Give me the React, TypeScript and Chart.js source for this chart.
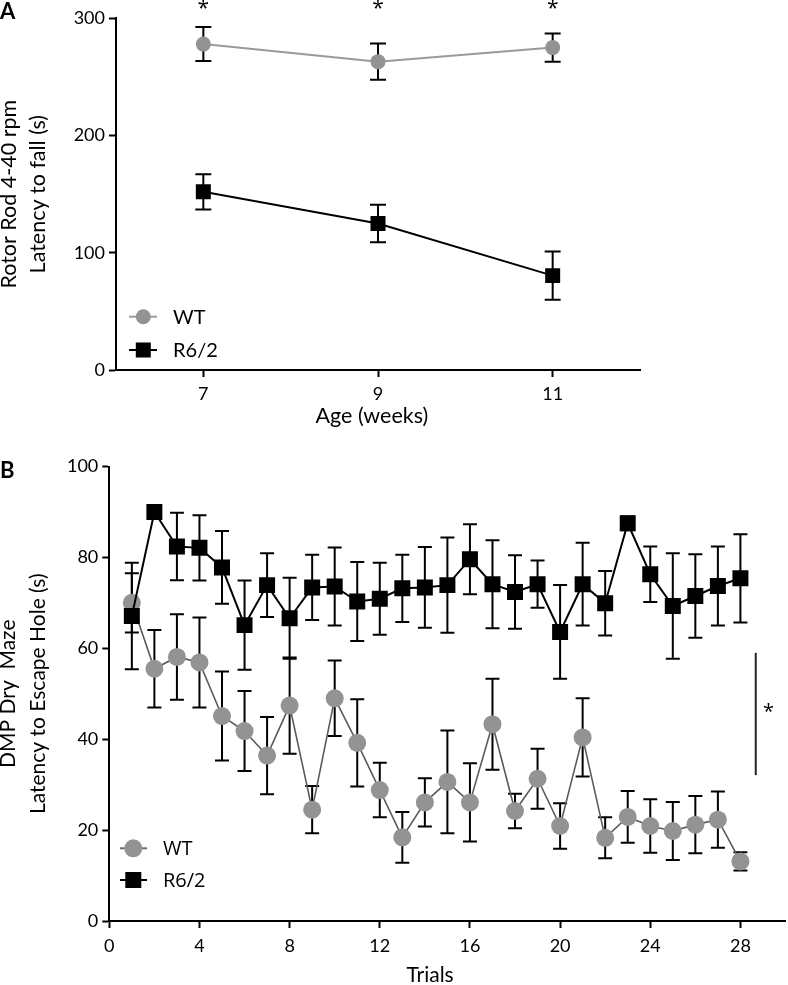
import React, { useEffect, useRef } from 'react';
import { Chart, registerables } from 'chart.js';

Chart.register(...registerables);

// ---------- Panel A data ----------
const weeksA = [7, 9, 11];
const wtMeanA = [278, 263, 275];
const wtSemA = [14.5, 15.5, 12];
const r62MeanA = [152, 125, 80.5];
const r62SemA = [15, 16, 20.5];
const xTicksA = [7, 9, 11];
const yTicksA = [0, 100, 200, 300];
const sigWeeksA = [7, 9, 11];

// ---------- Panel B data ----------
const trialsB = [1, 2, 3, 4, 5, 6, 7, 8, 9, 10, 11, 12, 13, 14, 15, 16, 17, 18, 19, 20, 21, 22, 23, 24, 25, 26, 27, 28];
const wtMeanB = [70.0, 55.5, 58.1, 56.9, 45.1, 41.8, 36.4, 47.4, 24.5, 49.0, 39.2, 28.8, 18.4, 26.1, 30.6, 26.1, 43.3, 24.2, 31.3, 20.9, 40.4, 18.3, 22.9, 20.9, 19.8, 21.2, 22.3, 13.1];
const wtSemB = [6.5, 8.5, 9.4, 9.9, 9.8, 8.8, 8.5, 10.6, 5.2, 8.3, 9.6, 6.0, 5.6, 5.3, 11.3, 8.6, 10.0, 3.8, 6.6, 5.0, 8.6, 4.5, 5.7, 5.9, 6.4, 6.3, 6.2, 2.0];
const r62MeanB = [67.1, 90.0, 82.4, 82.1, 77.8, 65.1, 73.9, 66.6, 73.4, 73.6, 70.3, 70.9, 73.2, 73.4, 73.9, 79.6, 74.1, 72.4, 74.1, 63.6, 74.1, 69.9, 87.5, 76.3, 69.3, 71.5, 73.7, 75.4];
const r62SemB = [11.7, 1.5, 7.4, 7.2, 8.0, 9.8, 7.0, 8.9, 7.2, 8.6, 8.7, 7.9, 7.4, 8.9, 10.5, 7.7, 9.7, 8.1, 5.2, 10.3, 9.1, 7.1, 1.5, 6.1, 11.6, 9.2, 8.7, 9.7];
const xTicksB = [0, 4, 8, 12, 16, 20, 24, 28];
const yTicksB = [0, 20, 40, 60, 80, 100];
const sigBarB = { x: 28.68, from: 59.0, to: 32.1, starX: 29.25, starY: 46 };

const WT_FILL = '#939393';
const BLACK = '#000000';
const FONT = 'Lato';

const toPts = (xs: number[], ys: number[]) => xs.map((x, i) => ({ x, y: ys[i] }));

const errorBarPlugin = {
  id: 'errorBars',
  beforeDatasetsDraw(chart: any, _a: any, opts: any) {
    const { ctx } = chart;
    const xs = chart.scales.x;
    const ys = chart.scales.y;
    ctx.save();
    ctx.strokeStyle = BLACK;
    ctx.lineWidth = opts.width;
    chart.data.datasets.forEach((ds: any) => {
      ds.data.forEach((p: any, i: number) => {
        const e = ds.errors[i];
        const px = xs.getPixelForValue(p.x);
        const top = ys.getPixelForValue(p.y + e);
        const bot = ys.getPixelForValue(p.y - e);
        ctx.beginPath();
        ctx.moveTo(px, top);
        ctx.lineTo(px, bot);
        ctx.moveTo(px - opts.cap, top);
        ctx.lineTo(px + opts.cap, top);
        ctx.moveTo(px - opts.cap, bot);
        ctx.lineTo(px + opts.cap, bot);
        ctx.stroke();
      });
    });
    ctx.restore();
  },
};

const extrasPlugin = {
  id: 'extras',
  afterDraw(chart: any, _a: any, opts: any) {
    const { ctx } = chart;
    const xs = chart.scales.x;
    const ys = chart.scales.y;
    ctx.save();
    // panel letter
    ctx.fillStyle = BLACK;
    ctx.font = `bold 22px ${FONT}`;
    ctx.textAlign = 'left';
    ctx.textBaseline = 'middle';
    ctx.fillText(opts.letter.text, opts.letter.x, opts.letter.y);
    // x axis title
    const xt = opts.xTitle;
    ctx.font = `${xt.size}px ${FONT}`;
    ctx.textAlign = 'center';
    ctx.fillText(xt.text, xs.getPixelForValue(xt.at), xt.y);
    // legend
    const lg = opts.legend;
    lg.items.forEach((it: any) => {
      ctx.strokeStyle = it.line;
      ctx.lineWidth = it.lineWidth;
      ctx.beginPath();
      ctx.moveTo(lg.x1, it.y);
      ctx.lineTo(lg.x2, it.y);
      ctx.stroke();
      ctx.fillStyle = it.fill;
      if (it.shape === 'circle') {
        ctx.beginPath();
        ctx.arc(lg.cx, it.y, it.size, 0, Math.PI * 2);
        ctx.fill();
      } else {
        ctx.fillRect(lg.cx - it.size, it.y - it.size, it.size * 2, it.size * 2);
      }
      ctx.fillStyle = BLACK;
      ctx.font = `${lg.fontSize}px ${lg.font}`;
      ctx.textAlign = 'left';
      ctx.textBaseline = 'middle';
      ctx.fillText(it.label, lg.tx, it.y + 1);
    });
    // significance marks
    ctx.fillStyle = BLACK;
    ctx.font = `${opts.starSize}px ${opts.starFont}`;
    ctx.textAlign = 'center';
    ctx.textBaseline = 'middle';
    opts.stars.forEach((s: any) => {
      ctx.fillText('*', xs.getPixelForValue(s.x), ys.getPixelForValue(s.y));
    });
    if (opts.bar) {
      ctx.strokeStyle = '#222';
      ctx.lineWidth = 2;
      const bx = xs.getPixelForValue(opts.bar.x);
      ctx.beginPath();
      ctx.moveTo(bx, ys.getPixelForValue(opts.bar.from));
      ctx.lineTo(bx, ys.getPixelForValue(opts.bar.to));
      ctx.stroke();
    }
    ctx.restore();
  },
};

function axisCommon(ticksArr: number[], size: number, pad: number) {
  return {
    afterBuildTicks: (s: any) => {
      s.ticks = ticksArr.map((v) => ({ value: v }));
    },
    grid: { display: true, drawOnChartArea: false, drawTicks: true, tickLength: 7, tickWidth: 2, tickColor: BLACK },
    border: { display: true, color: BLACK, width: 2 },
    ticks: { color: BLACK, font: { family: FONT, size }, padding: pad, maxRotation: 0, autoSkip: false },
  };
}

function configA(): any {
  return {
    type: 'line',
    data: {
      datasets: [
        {
          label: 'R6/2',
          data: toPts(weeksA, r62MeanA),
          errors: r62SemA,
          borderColor: BLACK,
          borderWidth: 2,
          pointStyle: 'rect',
          pointRadius: 10.6,
          pointBackgroundColor: BLACK,
          pointBorderWidth: 0,
          tension: 0,
          order: 0,
        },
        {
          label: 'WT',
          data: toPts(weeksA, wtMeanA),
          errors: wtSemA,
          borderColor: '#9a9a9a',
          borderWidth: 2,
          pointStyle: 'circle',
          pointRadius: 7.5,
          pointBackgroundColor: WT_FILL,
          pointBorderWidth: 0,
          tension: 0,
          order: 1,
        },
      ],
    },
    options: {
      responsive: false,
      animation: false,
      events: [],
      layout: { autoPadding: false, padding: { left: 0, right: 148, top: 18.3, bottom: 0 } },
      plugins: {
        legend: { display: false },
        tooltip: { enabled: false },
        errorBars: { cap: 8, width: 2 },
        extras: {
          letter: { text: 'A', x: 0, y: 12 },
          xTitle: { text: 'Age (weeks)', at: 8.93, y: 416, size: 21.5 },
          legend: {
            x1: 129, x2: 157, cx: 143.3, tx: 173, font: FONT, fontSize: 20,
            items: [
              { label: 'WT', shape: 'circle', fill: WT_FILL, line: '#9a9a9a', lineWidth: 2, size: 7.5, y: 316.7 },
              { label: 'R6/2', shape: 'rect', fill: BLACK, line: BLACK, lineWidth: 2, size: 7.5, y: 350 },
            ],
          },
          starSize: 21,
          starFont: 'Open Sans',
          stars: sigWeeksA.map((w) => ({ x: w, y: 307.5 })),
          bar: null,
        },
      },
      scales: {
        x: {
          type: 'linear',
          min: 6,
          max: 12,
          ...axisCommon(xTicksA, 18, 6),
          afterFit: (s: any) => {
            s.height = 70;
            s.paddingLeft = 0;
            s.paddingRight = 0;
          },
          title: { display: false },
        },
        y: {
          type: 'linear',
          min: 0,
          max: 300,
          ...axisCommon(yTicksA, 18, 4),
          afterFit: (s: any) => {
            s.width = 116;
            s.paddingTop = 0;
            s.paddingBottom = 0;
          },
          title: {
            display: true,
            text: ['Rotor Rod 4-40 rpm', 'Latency to fall (s)'],
            color: BLACK,
            font: { family: FONT, size: 21.5, lineHeight: '29px' },
            padding: { top: -5.5, bottom: 0 },
          },
        },
      },
    },
    plugins: [errorBarPlugin, extrasPlugin],
  };
}

function configB(): any {
  return {
    type: 'line',
    data: {
      datasets: [
        {
          label: 'R6/2',
          data: toPts(trialsB, r62MeanB),
          errors: r62SemB,
          borderColor: BLACK,
          borderWidth: 2,
          pointStyle: 'rect',
          pointRadius: 11.3,
          pointBackgroundColor: BLACK,
          pointBorderWidth: 0,
          tension: 0,
          order: 0,
        },
        {
          label: 'WT',
          data: toPts(trialsB, wtMeanB),
          errors: wtSemB,
          borderColor: '#5a5a5a',
          borderWidth: 1.6,
          pointStyle: 'circle',
          pointRadius: 9,
          pointBackgroundColor: WT_FILL,
          pointBorderWidth: 0,
          tension: 0,
          order: 1,
        },
      ],
    },
    options: {
      responsive: false,
      animation: false,
      events: [],
      layout: { autoPadding: false, padding: { left: 0, right: 2.5, top: 26.5, bottom: 0 } },
      plugins: {
        legend: { display: false },
        tooltip: { enabled: false },
        errorBars: { cap: 7, width: 2 },
        extras: {
          letter: { text: 'B', x: 0, y: 31 },
          xTitle: { text: 'Trials', at: 14.23, y: 535, size: 21 },
          legend: {
            x1: 120, x2: 147, cx: 133.3, tx: 163, font: 'Open Sans', fontSize: 20,
            items: [
              { label: 'WT', shape: 'circle', fill: WT_FILL, line: '#6a6a6a', lineWidth: 2, size: 9, y: 408.3 },
              { label: 'R6/2', shape: 'rect', fill: BLACK, line: BLACK, lineWidth: 2, size: 8, y: 440 },
            ],
          },
          starSize: 20,
          starFont: 'Open Sans',
          stars: [{ x: sigBarB.starX, y: sigBarB.starY }],
          bar: { x: sigBarB.x, from: sigBarB.from, to: sigBarB.to },
        },
      },
      scales: {
        x: {
          type: 'linear',
          min: 0,
          max: 30,
          ...axisCommon(xTicksB, 18, 7),
          afterFit: (s: any) => {
            s.height = 64;
            s.paddingLeft = 0;
            s.paddingRight = 0;
          },
          title: { display: false },
        },
        y: {
          type: 'linear',
          min: 0,
          max: 100,
          ...axisCommon(yTicksB, 18, 4),
          afterFit: (s: any) => {
            s.width = 109.3;
            s.paddingTop = 0;
            s.paddingBottom = 0;
          },
          title: {
            display: true,
            text: ['DMP Dry  Maze', 'Latency to Escape Hole (s)'],
            color: BLACK,
            font: { family: FONT, size: 21, lineHeight: '30px' },
            padding: { top: -6.7, bottom: 0 },
          },
        },
      },
    },
    plugins: [errorBarPlugin, extrasPlugin],
  };
}

function ChartCanvas({ make, top, height }: { make: () => any; top: number; height: number }) {
  const ref = useRef<HTMLCanvasElement>(null);
  useEffect(() => {
    const chart = new Chart(ref.current as HTMLCanvasElement, make());
    return () => chart.destroy();
  }, []);
  return (
    <canvas
      ref={ref}
      width={788}
      height={height}
      style={{ position: 'absolute', left: 0, top, width: 788, height, display: 'block' }}
    />
  );
}

export default function App() {
  return (
    <div style={{ position: 'absolute', left: 0, top: 0, width: 788, height: 985, background: '#fff', overflow: 'hidden' }}>
      <ChartCanvas make={configA} top={0} height={440} />
      <ChartCanvas make={configB} top={440} height={545} />
    </div>
  );
}
